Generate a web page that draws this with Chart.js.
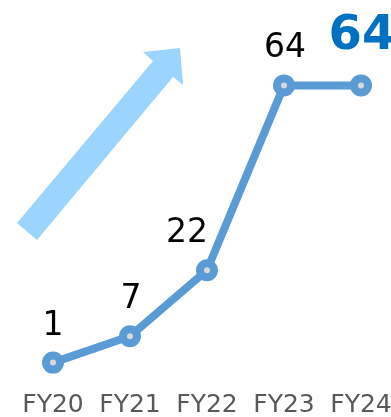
<!DOCTYPE html>
<html>
<head>
<meta charset="utf-8">
<script src="https://cdn.jsdelivr.net/npm/chart.js@4"></script>
<style>
  html, body { margin: 0; padding: 0; background: #fff; }
  #wrap { width: 391px; height: 417px; }
</style>
</head>
<body>
<div id="wrap"><canvas id="fyChart"></canvas></div>
<script>
// data
const years = ['FY20', 'FY21', 'FY22', 'FY23', 'FY24'];
const values = [1, 7, 22, 64, 64];
const valueLabels = ['1', '7', '22', '64', '64'];

// label nudges (px) so they sit like the original
const labelShiftX = [0, 1, -20, 1, 1];

// light blue "growth" arrow behind the line
const arrowPlugin = {
  id: 'arrow',
  beforeDatasetsDraw(chart) {
    const c = chart.ctx;
    c.save();
    c.fillStyle = '#9bd4fe';
    c.beginPath();
    c.moveTo(17, 223);
    c.lineTo(153, 61);
    c.lineTo(143, 52);
    c.lineTo(180, 48);
    c.lineTo(183, 85);
    c.lineTo(173, 77);
    c.lineTo(37, 240);
    c.closePath();
    c.fill();
    c.restore();
  }
};

// value labels above the points
const labelPlugin = {
  id: 'valueLabels',
  afterDatasetsDraw(chart) {
    const c = chart.ctx;
    const pts = chart.getDatasetMeta(0).data;
    c.save();
    c.textAlign = 'center';
    c.textBaseline = 'alphabetic';
    pts.forEach((p, i) => {
      if (i === pts.length - 1) {
        c.font = 'bold 48px "DejaVu Sans"';
        c.fillStyle = '#0070c0';
        c.fillText(valueLabels[i], p.x + labelShiftX[i], p.y - 36);
      } else {
        c.font = '33px "DejaVu Sans"';
        c.fillStyle = '#000';
        c.fillText(valueLabels[i], p.x + labelShiftX[i], p.y - 28);
      }
    });
    c.restore();
  }
};

new Chart(document.getElementById('fyChart'), {
  type: 'line',
  data: {
    labels: years,
    datasets: [{
      data: values,
      borderColor: '#5b9bd5',
      borderWidth: 8,
      pointRadius: 7,
      pointBorderWidth: 8,
      pointBackgroundColor: '#d9d9d9',
      pointBorderColor: '#5b9bd5',
      tension: 0,
      clip: false
    }]
  },
  options: {
    responsive: true,
    maintainAspectRatio: false,
    animation: false,
    layout: { padding: { left: 53, right: 30, top: 9.5, bottom: 0 } },
    plugins: { legend: { display: false }, tooltip: { enabled: false } },
    scales: {
      x: {
        offset: false,
        grid: { display: false, drawTicks: false },
        border: { display: false },
        ticks: {
          color: '#595959',
          padding: 23,
          font: { family: 'DejaVu Sans', size: 25, lineHeight: 1.2 },
          maxRotation: 0
        },
        afterFit(scale) {
          scale.height = 50;
          scale.paddingLeft = 0;
          scale.paddingRight = 0;
        }
      },
      y: { display: false, min: 0, max: 80 }
    }
  },
  plugins: [arrowPlugin, labelPlugin]
});
</script>
</body>
</html>
